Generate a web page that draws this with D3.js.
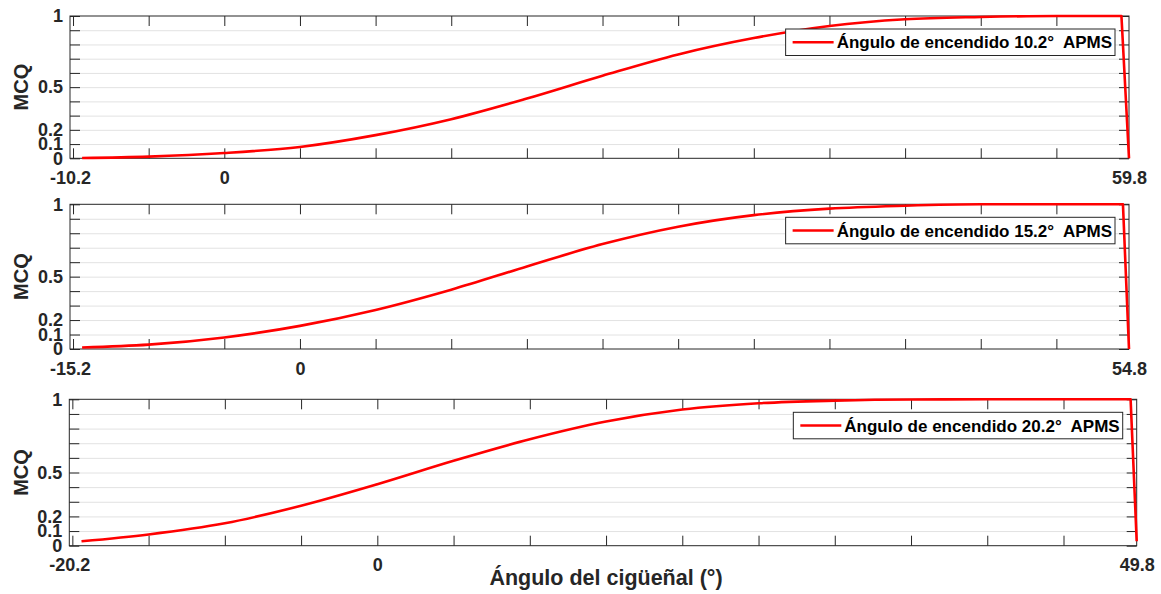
<!DOCTYPE html>
<html>
<head>
<meta charset="utf-8">
<script src="https://cdn.jsdelivr.net/npm/d3@7"></script>
<style>
  body { margin: 0; background: #fff; }
  svg text { font-family: "Liberation Sans", Arial, Helvetica, sans-serif; font-weight: bold; }
</style>
</head>
<body>
<svg width="1161" height="594"></svg>
<script>
// data (angle in degrees, MCQ = mass fraction burned)
const angle1 = [-9.4, -5, 0, 5, 10, 15, 20, 25, 30, 35, 40, 45, 50, 55, 59.3, 59.8];
const mcq1   = [0.002, 0.012, 0.037, 0.08, 0.163, 0.275, 0.42, 0.58, 0.73, 0.845, 0.93, 0.977, 0.993, 1, 1, 0];

const angle2 = [-14.4, -10, -5, 0, 5, 10, 15, 20, 25, 30, 35, 40, 45, 50, 54.4, 54.8];
const mcq2   = [0.01, 0.03, 0.08, 0.16, 0.27, 0.41, 0.57, 0.725, 0.845, 0.925, 0.97, 0.99, 1, 1, 1, 0];

const angle3 = [-19.4, -15, -10, -5, 0, 5, 10, 15, 20, 25, 30, 35, 40, 45, 49.4, 49.8];
const mcq3   = [0.03, 0.077, 0.153, 0.273, 0.42, 0.58, 0.727, 0.848, 0.93, 0.973, 0.991, 0.999, 1, 1, 1, 0.03];

const xStarts = [-10.2, -15.2, -20.2];
const xEnds = [59.8, 54.8, 49.8];
const yTickLabels = [0, 0.1, 0.2, 0.5, 1];
const legendLabels = [
  "Ángulo de encendido 10.2°  APMS",
  "Ángulo de encendido 15.2°  APMS",
  "Ángulo de encendido 20.2°  APMS"
];
const series = [[angle1, mcq1], [angle2, mcq2], [angle3, mcq3]];

// subplot boxes (pixels)
const boxes = [
  {left: 70, right: 1129, top: 16, bottom: 158.3},
  {left: 70, right: 1129, top: 204.3, bottom: 349},
  {left: 69.3, right: 1136.7, top: 399.3, bottom: 545.7}
];

const ink = "#262626";
const svg = d3.select("svg");
svg.append("rect").attr("width", 1161).attr("height", 594).attr("fill", "#fff");

function plot_panel(i) {
  const b = boxes[i];
  const x = d3.scaleLinear().domain([xStarts[i], xEnds[i]]).range([b.left, b.right]);
  const y = d3.scaleLinear().domain([0, 1]).range([b.bottom, b.top]);
  const g = svg.append("g");

  // horizontal grid every 0.1
  g.append("g")
    .attr("transform", `translate(${b.left},0)`)
    .call(d3.axisLeft(y).tickValues(d3.range(1, 10).map(d => d / 10)).tickSize(-(b.right - b.left)).tickFormat(""))
    .call(a => a.select(".domain").remove())
    .selectAll("line").attr("stroke", "#e2e2e2");

  // inward ticks on all four sides
  const fives = d3.range(Math.ceil(xStarts[i] / 5) * 5, xEnds[i], 5);
  const tenths = d3.range(0, 11).map(d => d / 10);
  const tickAxes = [
    [d3.axisBottom(x).tickValues(fives), `translate(0,${b.bottom})`],
    [d3.axisTop(x).tickValues(fives), `translate(0,${b.top})`],
    [d3.axisLeft(y).tickValues(tenths), `translate(${b.left},0)`],
    [d3.axisRight(y).tickValues(tenths), `translate(${b.right},0)`]
  ];
  tickAxes.forEach(([ax, tr]) => {
    g.append("g").attr("transform", tr)
      .call(ax.tickSizeInner(-10).tickSizeOuter(0).tickFormat(""))
      .call(a => a.select(".domain").remove())
      .selectAll("line").attr("stroke", ink);
  });

  // box
  g.append("rect")
    .attr("x", b.left).attr("y", b.top)
    .attr("width", b.right - b.left).attr("height", b.bottom - b.top)
    .attr("fill", "none").attr("stroke", ink).attr("stroke-width", 1);

  // tick labels
  g.append("g").attr("transform", `translate(0,${b.bottom})`)
    .call(d3.axisBottom(x).tickValues([xStarts[i], 0, xEnds[i]]).tickSize(0).tickPadding(13)
      .tickFormat(d => d === 0 ? "0" : d.toFixed(1)))
    .call(a => a.select(".domain").remove())
    .attr("font-size", 18).attr("font-family", null).attr("color", ink);

  g.append("g").attr("transform", `translate(${b.left},0)`)
    .call(d3.axisLeft(y).tickValues(yTickLabels).tickSize(0).tickPadding(7).tickFormat(d => String(d)))
    .call(a => a.select(".domain").remove())
    .attr("font-size", 18).attr("font-family", null).attr("color", ink);

  // y label
  g.append("text")
    .attr("transform", `translate(28,${(b.top + b.bottom) / 2}) rotate(-90)`)
    .attr("text-anchor", "middle")
    .attr("font-size", 20).attr("fill", ink)
    .text("MCQ");

  // curve
  const [xs, ys] = series[i];
  const pts = xs.map((d, k) => ({a: d, v: ys[k]}));
  const line = d3.line().x(d => x(d.a)).y(d => y(d.v)).curve(d3.curveMonotoneX);
  const last = pts[pts.length - 1];
  g.append("path")
    .attr("d", line(pts.slice(0, -1)) + `L${x(last.a)},${y(last.v)}`)
    .attr("fill", "none").attr("stroke", "#ff0000").attr("stroke-width", 2.6)
    .attr("stroke-linejoin", "round");

  // legend
  const lg = g.append("g");
  const lbox = lg.append("rect").attr("fill", "#fff").attr("stroke", ink).attr("stroke-width", 1);
  const lt = lg.append("text")
    .attr("font-size", 17).attr("fill", "#000")
    .attr("xml:space", "preserve").style("white-space", "pre")
    .text(legendLabels[i]);
  const tw = lt.node().getComputedTextLength();
  const bw = tw + 54, bh = 26.5;
  const bx = b.right - 14 - bw, by = b.top + 13;
  lbox.attr("x", bx).attr("y", by).attr("width", bw).attr("height", bh);
  lt.attr("x", bx + 51).attr("y", by + bh / 2 + 6);
  lg.append("line")
    .attr("x1", bx + 7).attr("x2", bx + 48)
    .attr("y1", by + bh / 2).attr("y2", by + bh / 2)
    .attr("stroke", "#ff0000").attr("stroke-width", 2.6);
}

[0, 1, 2].forEach(plot_panel);

// x label
svg.append("text")
  .attr("x", (boxes[2].left + boxes[2].right) / 2 + 3).attr("y", 585)
  .attr("text-anchor", "middle").attr("font-size", 21.5).attr("fill", ink)
  .text("Ángulo del cigüeñal (°)");
</script>
</body>
</html>
